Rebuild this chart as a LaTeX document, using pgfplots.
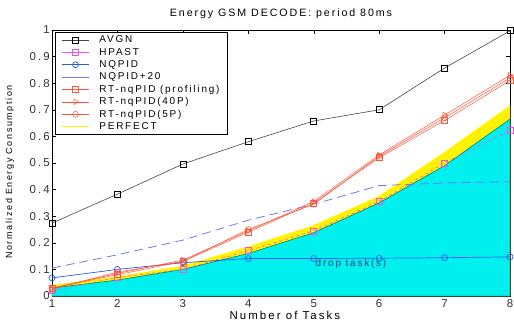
\documentclass[border=0pt]{standalone}
\usepackage{fontspec}
\setmainfont{Liberation Sans}
\newfontfamily\spfont{Liberation Sans}[LetterSpace=18]
\usepackage{pgfplots}
\pgfplotsset{compat=1.18}
\definecolor{avgn}{RGB}{70,70,70}
\definecolor{hpast}{RGB}{240,80,240}
\definecolor{nqpid}{RGB}{40,90,230}
\definecolor{nqpid20}{RGB}{110,120,240}
\definecolor{rt}{RGB}{255,85,55}
\definecolor{cyanfill}{RGB}{0,240,240}
\definecolor{edge}{RGB}{20,110,40}
\definecolor{droptxt}{RGB}{30,70,120}
\begin{document}
\begin{tikzpicture}
\path[use as bounding box] (-52bp,-26bp) rectangle (462bp,296bp);
\begin{axis}[
  scale only axis, width=458bp, height=266bp,
  xmin=1, xmax=8, ymin=0, ymax=1,
  xtick={1,2,3,4,5,6,7,8},
  ytick={0,0.1,0.2,0.3,0.4,0.5,0.6,0.7,0.8,0.9,1},
  tick align=inside, major tick length=4bp,
  every tick/.style={black, line width=0.4bp},
  axis line style={line width=0.6bp},
  /pgf/number format/assume math mode=true,
  ticklabel style={font=\spfont\fontsize{11.5}{12}\selectfont, text=black!80},
  xticklabel style={anchor=base, yshift=-11bp},
  yticklabel style={anchor=east, inner sep=2bp},
  title={Energy GSM DECODE: period 80ms},
  title style={font=\spfont\fontsize{10.7}{12}\selectfont, at={(0.5,1)}, anchor=base, yshift=8bp},
  xlabel={Number of Tasks},
  xlabel style={font=\spfont\fontsize{11.5}{12}\selectfont, at={(0.5085,0)}, anchor=base, yshift=-23bp},
  ylabel={Normalized Energy Consumption},
  ylabel style={font=\spfont\fontsize{9}{10}\selectfont, at={(axis description cs:-0.092,0.466)}, anchor=center},
  legend cell align=left,
  legend image code/.code={\draw[solid,mark repeat=2,mark phase=2] plot coordinates {(0bp,0bp) (13.5bp,0bp) (27bp,0bp)};},
  legend style={at={(0.0066,0.992)}, anchor=north west, draw=black, line width=0.5bp,
    font=\spfont\fontsize{10}{11}\selectfont, row sep=0.6bp, inner xsep=6bp, inner ysep=2bp,
    nodes={inner sep=1.6bp},
    /tikz/every odd column/.append style={column sep=8bp}},
]
% yellow PERFECT band and cyan area
\addplot[draw=yellow, fill=yellow, forget plot] coordinates {
(1,0.04) (2,0.072) (3,0.113) (4,0.185) (5,0.265) (6,0.375) (7,0.54) (8,0.715)} \closedcycle;
\addplot[draw=edge, line width=0.5bp, fill=cyanfill, forget plot] coordinates {
(1,0.03) (2,0.06) (3,0.10) (4,0.16) (5,0.238) (6,0.35) (7,0.49) (8,0.665)} \closedcycle;
% AVGN
\addplot[avgn, line width=0.6bp, mark=square, mark size=3bp, mark options={solid, black}] coordinates {
(1,0.274) (2,0.383) (3,0.496) (4,0.58) (5,0.658) (6,0.70) (7,0.857) (8,0.997)};
\addlegendentry{AVGN}
% HPAST
\addplot[hpast, line width=0.6bp, dashed, mark=square, mark size=3bp, mark options={solid}] coordinates {
(1,0.02) (2,0.07) (3,0.10) (4,0.17) (5,0.245) (6,0.355) (7,0.50) (8,0.624)};
\addlegendentry{HPAST}
% NQPID
\addplot[nqpid, line width=0.7bp, mark=o, mark size=3bp, mark options={solid}] coordinates {
(1,0.068) (2,0.10) (3,0.125) (4,0.141) (5,0.141) (6,0.142) (7,0.144) (8,0.147)};
\addlegendentry{NQPID}
% NQPID+20
\addplot[nqpid20, line width=0.8bp, dash pattern=on 9bp off 5bp] coordinates {
(1,0.105) (2,0.155) (3,0.21) (4,0.285) (5,0.345) (6,0.415) (7,0.425) (8,0.43)};
\addlegendentry{NQPID+20}
% RT profiling
\addplot[rt, line width=0.5bp, mark=square, mark size=3bp] coordinates {
(1,0.03) (2,0.08) (3,0.13) (4,0.24) (5,0.35) (6,0.52) (7,0.66) (8,0.81)};
\addlegendentry{RT-nqPID (profiling)}
% RT 40P
\addplot[rt, line width=0.5bp, mark=triangle, mark size=3.2bp, mark options={rotate=-90}] coordinates {
(1,0.03) (2,0.085) (3,0.135) (4,0.245) (5,0.355) (6,0.53) (7,0.68) (8,0.83)};
\addlegendentry{RT-nqPID(40P)}
% RT 5P
\addplot[rt, line width=0.5bp, mark=o, mark size=3bp] coordinates {
(1,0.025) (2,0.09) (3,0.13) (4,0.25) (5,0.345) (6,0.525) (7,0.67) (8,0.82)};
\addlegendentry{RT-nqPID(5P)}
\addlegendimage{yellow, line width=1.5bp}
\addlegendentry{PERFECT}
\node[font=\spfont\fontsize{10}{12}\selectfont, text=droptxt] at (axis cs:5.57,0.12) {drop task(s)};
\end{axis}
\end{tikzpicture}
\end{document}
